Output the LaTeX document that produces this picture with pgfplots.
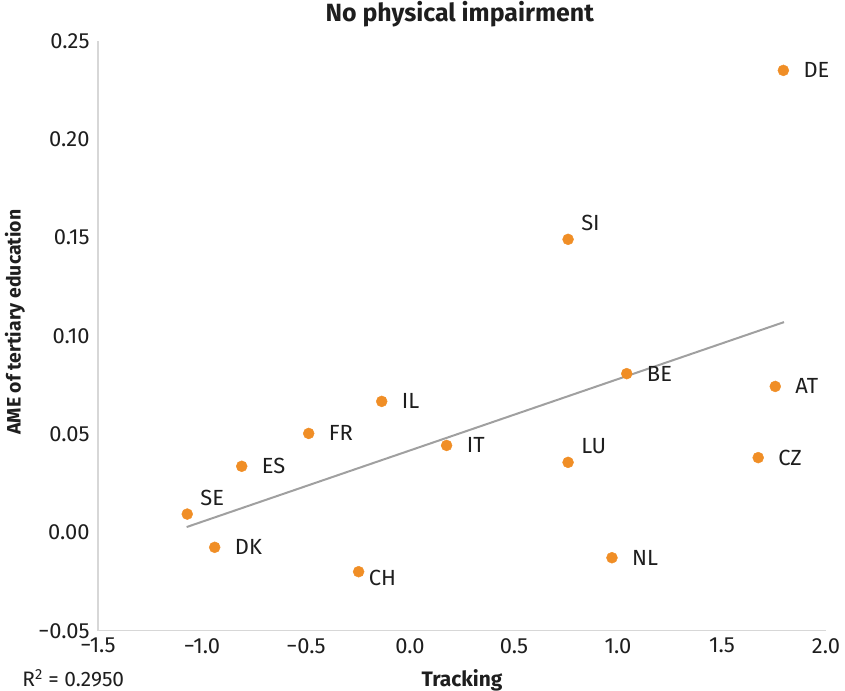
\documentclass[border=0pt]{standalone}
\usepackage{pgfplots}
\pgfplotsset{compat=1.18}
\usepackage{fontspec}
\setmainfont{Fira Sans}
\definecolor{dot}{RGB}{240,142,38}
\definecolor{trend}{RGB}{160,160,160}
\definecolor{axgray}{RGB}{215,215,215}
\definecolor{txt}{RGB}{30,30,30}
\begin{document}
\begin{tikzpicture}
\begin{axis}[
  scale only axis, width=728bp, height=590bp,
  xmin=-1.5, xmax=2.0, ymin=-0.05, ymax=0.25,
  axis x line*=bottom, axis y line*=left,
  axis line style={draw=axgray, line width=1.3bp},
  xtick={-1.5,-1,-0.5,0,0.5,1,1.5,2},
  xticklabels={−1.5,−1.0,−0.5,0.0,0.5,1.0,1.5,2.0},
  ytick={-0.05,0,0.05,0.1,0.15,0.2,0.25},
  yticklabels={−0.05,0.00,0.05,0.10,0.15,0.20,0.25},
  major tick length=0pt,
  tick label style={font=\fontsize{22}{22}\selectfont, text=txt},
  yticklabel style={xshift=-5bp},
  xticklabel style={yshift=-4bp},
  xlabel={\textbf{Tracking}},
  xlabel style={font=\fontsize{21}{21}\selectfont, text=txt, at={(rel axis cs:0.5,-0.0954)}, anchor=base},
  ylabel={\textbf{AME of tertiary education}},
  ylabel style={font=\fontsize{19.5}{19.5}\selectfont, text=txt, at={(rel axis cs:-0.114,0.523)}, anchor=center, rotate=0},
  title={\textbf{No physical impairment}},
  title style={font=\fontsize{25}{25}\selectfont, text=txt, at={(rel axis cs:0.497,1.0229)}, anchor=base},
  clip=false,
]
\addplot[color=trend, line width=2bp] coordinates {(-1.074,0.0027) (1.798,0.1069)};
\addplot[only marks, mark=*, mark size=5.5bp, color=dot,
  point meta=explicit symbolic, nodes near coords,
  nodes near coords style={anchor=west, xshift=20bp, inner sep=0pt, text=txt, font=\fontsize{22}{22}\selectfont}]
  table[meta=label] {
x y label
1.795 0.2349 DE
1.042 0.0807 BE
1.756 0.0742 AT
1.674 0.0380 CZ
0.971 -0.0129 NL
-0.136 0.0666 IL
-0.487 0.0503 FR
0.176 0.0442 IT
-0.809 0.0336 ES
-0.939 -0.0076 DK
};
\addplot[only marks, mark=*, mark size=5.5bp, color=dot,
  point meta=explicit symbolic, nodes near coords,
  nodes near coords style={anchor=west, xshift=13bp, yshift=16bp, inner sep=0pt, text=txt, font=\fontsize{22}{22}\selectfont}]
  table[meta=label] {
x y label
0.760 0.1490 SI
0.760 0.0356 LU
-1.071 0.0093 SE
};
\addplot[only marks, mark=*, mark size=5.5bp, color=dot,
  point meta=explicit symbolic, nodes near coords,
  nodes near coords style={anchor=west, xshift=10bp, yshift=-6bp, inner sep=0pt, text=txt, font=\fontsize{22}{22}\selectfont}]
  table[meta=label] {
x y label
-0.247 -0.0200 CH
};
\node[anchor=base west, text=txt, font=\fontsize{21}{21}\selectfont, inner sep=0pt] at (rel axis cs:-0.104,-0.0954) {R\textsuperscript{2} = 0.2950};
\coordinate (bl) at (rel axis cs:0,0);
\end{axis}
\pgfresetboundingbox
\path[use as bounding box] ([shift={(-98bp,-60.3bp)}]bl) rectangle ++(845bp,691bp);
\end{tikzpicture}
\end{document}
